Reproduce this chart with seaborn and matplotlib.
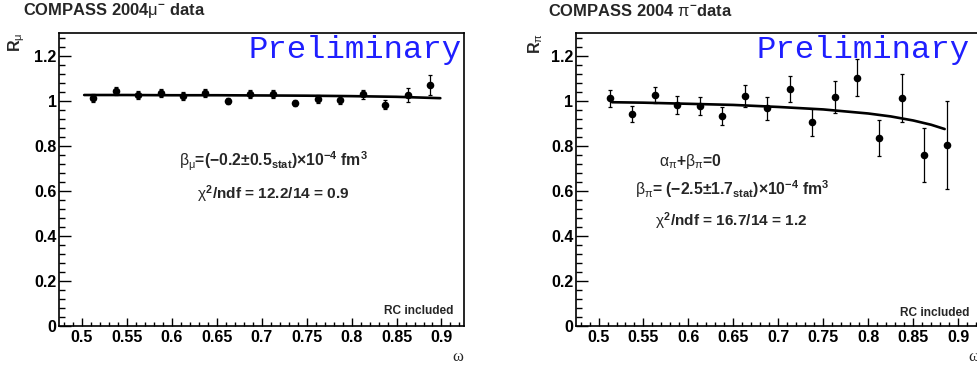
import matplotlib
matplotlib.use("Agg")
import matplotlib.pyplot as plt
import seaborn as sns
import pandas as pd
from matplotlib.ticker import MultipleLocator, FuncFormatter

# bin centres in omega
omega = [0.5125, 0.5375, 0.5625, 0.5875, 0.6125, 0.6375, 0.6625, 0.6875,
         0.7125, 0.7375, 0.7625, 0.7875, 0.8125, 0.8375, 0.8625, 0.8875]

# muon data
mu_ratio = [1.013, 1.044, 1.025, 1.033, 1.022, 1.034, 0.998, 1.031,
            1.030, 0.990, 1.007, 1.004, 1.028, 0.982, 1.025, 1.070]
mu_err = [0.018, 0.017, 0.016, 0.017, 0.017, 0.017, 0.015, 0.018,
          0.018, 0.015, 0.018, 0.018, 0.020, 0.020, 0.032, 0.043]

# pion data
pi_ratio = [1.010, 0.941, 1.024, 0.981, 0.978, 0.930, 1.019, 0.966,
            1.053, 0.905, 1.016, 1.101, 0.833, 1.012, 0.759, 0.803]
pi_err = [0.036, 0.035, 0.036, 0.039, 0.040, 0.040, 0.049, 0.051,
          0.058, 0.060, 0.070, 0.082, 0.079, 0.107, 0.119, 0.194]

# fit curves
mu_fit_omega = [0.5026, 0.55, 0.60, 0.65, 0.70, 0.75, 0.80, 0.85, 0.8987]
mu_fit_ratio = [1.025, 1.025, 1.024, 1.024, 1.023, 1.022, 1.020, 1.017, 1.011]
pi_fit_omega = [0.515, 0.55, 0.60, 0.65, 0.70, 0.75, 0.80, 0.825, 0.85, 0.87, 0.885]
pi_fit_ratio = [0.993, 0.991, 0.986, 0.981, 0.972, 0.961, 0.943, 0.930, 0.912, 0.893, 0.874]

sns.set_theme(style="ticks")
plt.rcParams["font.family"] = ["Liberation Sans", "DejaVu Sans"]
plt.rcParams["mathtext.fontset"] = "custom"
plt.rcParams["mathtext.rm"] = "Liberation Sans:bold"
plt.rcParams["mathtext.bf"] = "Liberation Sans:bold"
plt.rcParams["mathtext.it"] = "Liberation Sans"
plt.rcParams["mathtext.sf"] = "Liberation Sans:bold"

fig = plt.figure(figsize=(9.78, 3.65), dpi=100)
fig.patch.set_facecolor("white")


def root_frame(ax):
    ax.set_facecolor("white")
    ax.set_xlim(0.475, 0.925)
    ax.set_ylim(0, 1.3)
    for s in ax.spines.values():
        s.set_visible(True)
        s.set_color("black")
        s.set_linewidth(1.2)
    ax.xaxis.set_major_locator(MultipleLocator(0.05))
    ax.xaxis.set_minor_locator(MultipleLocator(0.01))
    ax.yaxis.set_major_locator(MultipleLocator(0.2))
    ax.yaxis.set_minor_locator(MultipleLocator(0.04))
    fmt = FuncFormatter(lambda v, p: f"{v:g}")
    ax.xaxis.set_major_formatter(fmt)
    ax.yaxis.set_major_formatter(fmt)
    ax.tick_params(axis="both", which="both", direction="in", color="black",
                   top=False, right=False, width=1.0)
    ax.tick_params(axis="x", which="major", length=5.8, pad=3)
    ax.tick_params(axis="x", which="minor", length=2.9)
    ax.tick_params(axis="y", which="major", length=8.6, pad=2)
    ax.tick_params(axis="y", which="minor", length=4.3)
    for lab in ax.get_xticklabels() + ax.get_yticklabels():
        lab.set_fontweight("bold")
        lab.set_fontsize(11.5)
        lab.set_color("black")
    ax.set_xlabel("")
    ax.set_ylabel("")
    ax.grid(False)


def draw_panel(ax, ratio, err, fit_x, fit_y):
    data = pd.DataFrame({"omega": omega, "ratio": ratio, "err": err})
    fit = pd.DataFrame({"omega": fit_x, "ratio": fit_y})
    ax.errorbar(data["omega"], data["ratio"], yerr=data["err"], fmt="none",
                ecolor="black", elinewidth=0.9, capsize=1.6, capthick=0.9,
                zorder=2)
    sns.scatterplot(data=data, x="omega", y="ratio", ax=ax, color="black",
                    s=30, edgecolor="black", linewidth=0, zorder=3, legend=False)
    sns.lineplot(data=fit, x="omega", y="ratio", ax=ax, color="black",
                 linewidth=1.9, zorder=4, legend=False)
    root_frame(ax)


# left panel: muons
ax1 = fig.add_axes([0.0607, 0.1068, 0.4137, 0.8027])
draw_panel(ax1, mu_ratio, mu_err, mu_fit_omega, mu_fit_ratio)
ax1.text(0.994, 1.19, "Preliminary", transform=ax1.get_yaxis_transform(),
         ha="right", va="baseline", family="Liberation Mono", fontsize=23.3,
         color="#1f1fff")
ax1.text(0.528, 0.708,
         r"$\beta_{\mu}$=(−0.2±$0.5_{\mathrm{stat}}$)×$10^{-4}$ $\mathrm{fm}^{3}$",
         transform=ax1.get_yaxis_transform(), ha="center", va="baseline",
         fontsize=11.3, fontweight="bold")
ax1.text(0.528, 0.563, r"$\chi^{2}$/ndf = 12.2/14 = 0.9",
         transform=ax1.get_yaxis_transform(), ha="center", va="baseline",
         fontsize=11.1, fontweight="bold")
ax1.text(0.975, 0.052, "RC included", transform=ax1.get_yaxis_transform(),
         ha="right", va="baseline", fontsize=8.6, fontweight="bold")
ax1.text(0.984, -0.118, "ω", transform=ax1.transAxes, ha="center",
         va="baseline", family="Liberation Serif", fontsize=12)
ax1.text(-0.105, 1.0, r"$\mathrm{R}_{\mu}$", transform=ax1.transAxes,
         rotation=90, ha="center", va="top", fontsize=11.5, fontweight="bold")
fig.text(22.7 / 978, 1 - 15.5 / 365, r"COMPASS 2004$\mu^{-}$ data",
         ha="left", va="baseline", fontsize=11.9, fontweight="bold")

# right panel: pions
ax2 = fig.add_axes([0.589, 0.1068, 0.4137, 0.8027])
draw_panel(ax2, pi_ratio, pi_err, pi_fit_omega, pi_fit_ratio)
ax2.text(0.974, 1.19, "Preliminary", transform=ax2.get_yaxis_transform(),
         ha="right", va="baseline", family="Liberation Mono", fontsize=23.3,
         color="#1f1fff")
ax2.text(0.283, 0.712, r"$\alpha_{\pi}$+$\beta_{\pi}$=0",
         transform=ax2.get_yaxis_transform(), ha="center", va="baseline",
         fontsize=11.3, fontweight="bold")
ax2.text(0.386, 0.582,
         r"$\beta_{\pi}$= (−2.5±$1.7_{\mathrm{stat}}$)×$10^{-4}$ $\mathrm{fm}^{3}$",
         transform=ax2.get_yaxis_transform(), ha="center", va="baseline",
         fontsize=11.3, fontweight="bold")
ax2.text(0.384, 0.444, r"$\chi^{2}$/ndf = 16.7/14 = 1.2",
         transform=ax2.get_yaxis_transform(), ha="center", va="baseline",
         fontsize=11.1, fontweight="bold")
ax2.text(0.971, 0.045, "RC included", transform=ax2.get_yaxis_transform(),
         ha="right", va="baseline", fontsize=8.6, fontweight="bold")
ax2.text(0.984, -0.118, "ω", transform=ax2.transAxes, ha="center",
         va="baseline", family="Liberation Serif", fontsize=12)
ax2.text(-0.10, 1.0, r"$\mathrm{R}_{\pi}$", transform=ax2.transAxes,
         rotation=90, ha="center", va="top", fontsize=11.5, fontweight="bold")
fig.text(548.3 / 978, 1 - 15.5 / 365, r"COMPASS 2004 $\pi^{-}$data",
         ha="left", va="baseline", fontsize=11.9, fontweight="bold")

fig.savefig("out.png", dpi=100, facecolor="white")
